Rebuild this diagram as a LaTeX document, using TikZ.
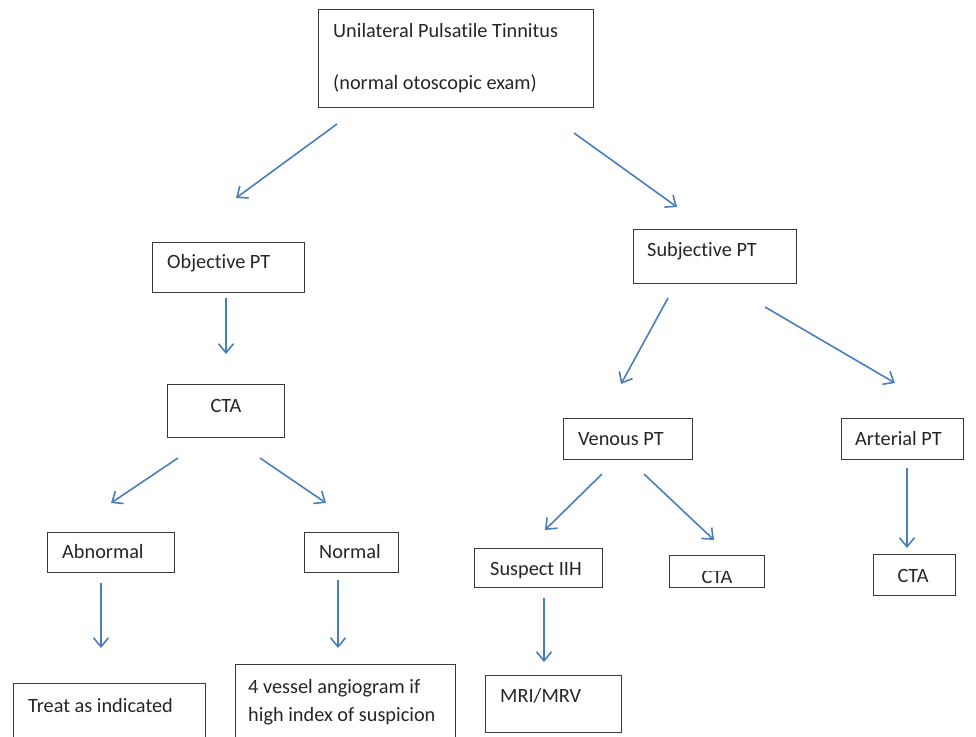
\documentclass[tikz,border=0pt]{standalone}
\usepackage{fontspec}
\setmainfont{Carlito}[Ligatures={NoCommon}]
\usetikzlibrary{arrows.meta}
\definecolor{arrowblue}{HTML}{4A7EBB}
\definecolor{boxline}{HTML}{3A3A3A}
\tikzset{
  box/.style={draw=boxline, line width=0.85pt, fill=white, rectangle, inner sep=0pt},
  lbl/.style={inner sep=0pt, font=\fontsize{20.3}{24}\selectfont, text=black!85},
  arr/.style={draw=arrowblue, line width=1.6pt, -{Straight Barb[length=9pt,width=15pt,line width=1.6pt]}}
}
\newcommand{\boxat}[5]{\node[box, minimum width=#4-#2, minimum height=#5-#3] (#1) at ({(#2+#4)/2},{(#3+#5)/2}) {};}
\begin{document}
\begin{tikzpicture}[x=1pt,y=-1pt]
\clip (0,0) rectangle (976,736);
\useasboundingbox (0,0) rectangle (976,736);
% boxes
\boxat{top}{318}{9}{593}{107}
\boxat{obj}{152}{242}{304}{292}
\boxat{subj}{633}{229}{796}{283}
\boxat{ctal}{167}{384}{284}{437}
\boxat{abn}{47}{532}{174}{572}
\boxat{nor}{304}{532}{398}{572}
\boxat{ven}{563}{418}{692}{459}
\boxat{art}{841}{418}{963}{459}
\boxat{iih}{474}{548}{602}{587}
\boxat{ctav}{669}{555}{764}{587}
\boxat{ctar}{873}{554}{955}{595}
\boxat{treat}{13}{683}{205}{760}
\boxat{ves}{235}{664}{455}{760}
\boxat{mri}{485}{675}{621}{732}
% labels
\node[lbl, anchor=base west] (tTop1) at (333,37) {Unilateral Pulsatile Tinnitus};
\node[lbl, anchor=base west] (tTop2) at (333,89) {(normal otoscopic exam)};
\node[lbl, anchor=base west] (tObj) at (167,268) {Objective PT};
\node[lbl, anchor=base west] (tSubj) at (647,256) {Subjective PT};
\node[lbl, anchor=base] (tCtal) at (226,412) {CTA};
\node[lbl, anchor=base west] (tAbn) at (62,558) {Abnormal};
\node[lbl, anchor=base west] (tNor) at (319,558) {Normal};
\node[lbl, anchor=base west] (tVen) at (578,445) {Venous PT};
\node[lbl, anchor=base west] (tArt) at (855,445) {Arterial PT};
\node[lbl, anchor=base west] (tIih) at (490,575) {Suspect IIH};
\begin{scope}
\clip (669,571) rectangle (764,590);
\node[lbl, anchor=base] (tCtav) at (717,583) {CTA};
\end{scope}
\node[lbl, anchor=base] (tCtar) at (913,582) {CTA};
\node[lbl, anchor=base west] (tMri) at (500,702) {MRI/MRV};
\node[lbl, anchor=base west] (tTreat) at (28,712) {Treat as indicated};
\node[lbl, anchor=base west] (tVes1) at (248,693) {4 vessel angiogram if};
\node[lbl, anchor=base west] (tVes2) at (248,721) {high index of suspicion};
% arrow endpoints
\coordinate (a1s) at (337,124); \coordinate (a1e) at (236,198);
\coordinate (a2s) at (574,133); \coordinate (a2e) at (677,207);
\coordinate (a3s) at (226,298); \coordinate (a3e) at (226,354);
\coordinate (a4s) at (178,458); \coordinate (a4e) at (111,503);
\coordinate (a5s) at (260,458); \coordinate (a5e) at (326,503);
\coordinate (a6s) at (668,298); \coordinate (a6e) at (621,384);
\coordinate (a7s) at (765,307); \coordinate (a7e) at (895,383);
\coordinate (a8s) at (602,474); \coordinate (a8e) at (545,530);
\coordinate (a9s) at (644,474); \coordinate (a9e) at (714,540);
\coordinate (a10s) at (907,468); \coordinate (a10e) at (907,548);
\coordinate (a11s) at (101,583); \coordinate (a11e) at (101,648);
\coordinate (a12s) at (338,580); \coordinate (a12e) at (338,648);
\coordinate (a13s) at (544,598); \coordinate (a13e) at (544,662);
\foreach \i in {1,...,13} { \draw[arr] (a\i s) -- (a\i e); }
\end{tikzpicture}
\end{document}
